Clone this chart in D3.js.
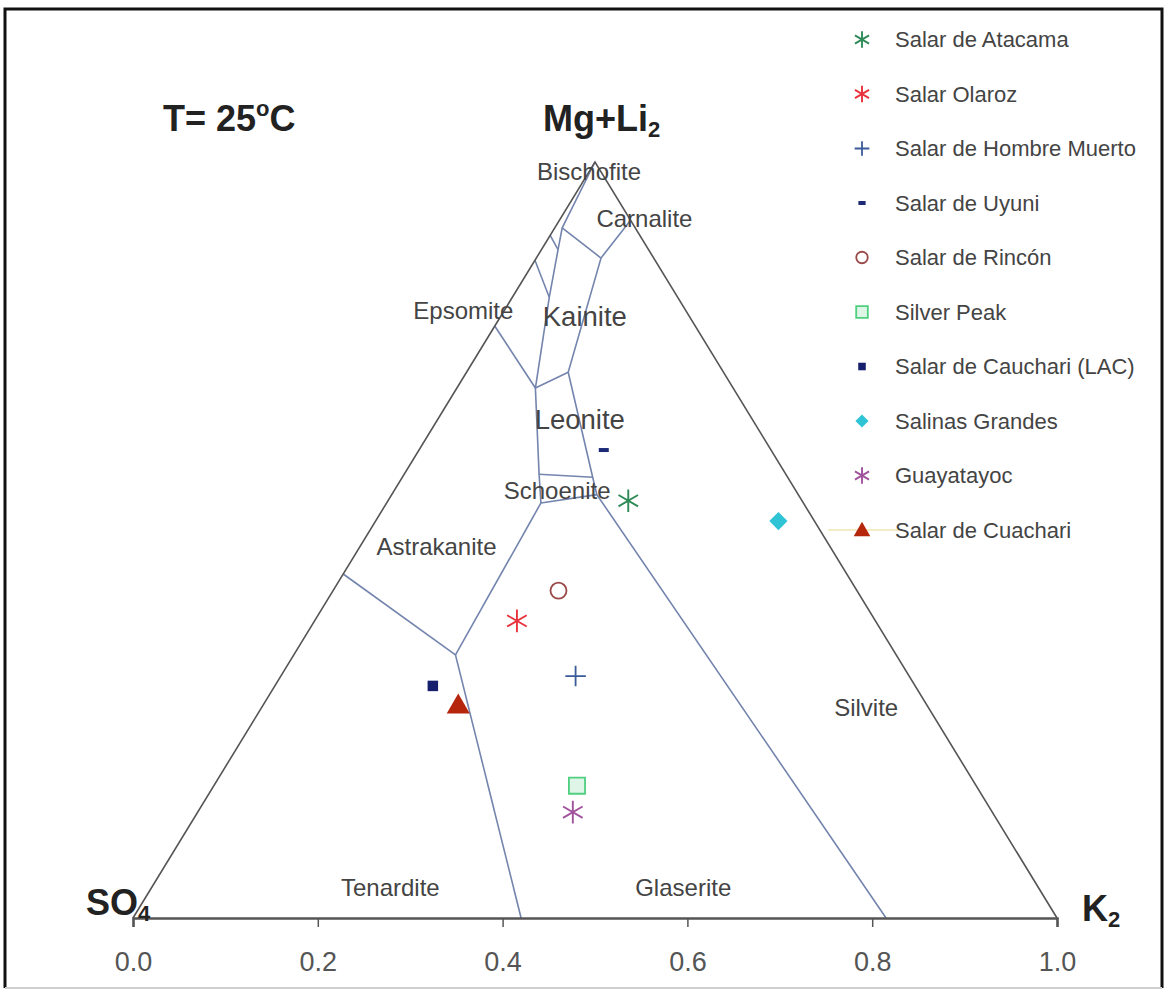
<!DOCTYPE html>
<html>
<head>
<meta charset="utf-8">
<script src="https://cdn.jsdelivr.net/npm/d3@7"></script>
<style>
  body { margin: 0; background: #fff; }
  text { font-family: Arial, "Liberation Sans", sans-serif; }
</style>
</head>
<body>
<div id="chart"></div>
<script>
// ---- data ----
// sample points, ternary fractions (K2, Mg+Li2); SO4 = 1 - both
var sites = ['Salar de Atacama', 'Salar Olaroz', 'Salar de Hombre Muerto', 'Salar de Uyuni',
  'Salar de Rincón', 'Silver Peak', 'Salar de Cauchari (LAC)', 'Salinas Grandes',
  'Guayatayoc', 'Salar de Cuachari'];
var siteK2   = [0.260, 0.219, 0.319, 0.200, 0.244, 0.393, 0.171, 0.436, 0.406, 0.211];
var siteMgLi = [0.552, 0.393, 0.320, 0.619, 0.433, 0.175, 0.307, 0.525, 0.140, 0.282];
var siteShape = ['asterisk', 'asterisk', 'plus', 'dash', 'circle', 'square', 'square', 'diamond', 'asterisk', 'triangle'];
var siteColor = ['#2e8b57', '#e8323c', '#3b5b9a', '#1c2a78', '#9b4a4a', '#4fcf7f', '#151f6e', '#2ec4d6', '#a0529c', '#b5260c'];

// phase boundaries, polylines of [K2, Mg+Li2]
var boundaries = [
  [[0.420, 0], [0.175, 0.348]],
  [[0, 0.455], [0.175, 0.348]],
  [[0.175, 0.348], [0.167, 0.549]],
  [[0.167, 0.549], [0.222, 0.560]],
  [[0.815, 0], [0.222, 0.560], [0.206, 0.583], [0.110, 0.722], [0.070, 0.873], [0.077, 0.923]],
  [[0.167, 0.549], [0.146, 0.587], [0.085, 0.701], [0.040, 0.821], [0.018, 0.884], [0.008, 0.913], [0, 1]],
  [[0.146, 0.587], [0.206, 0.583]],
  [[0.085, 0.701], [0.110, 0.722]],
  [[0, 0.783], [0.085, 0.701]],
  [[0.008, 0.913], [0.070, 0.873]],
  [[0, 0.903], [0.018, 0.884]],
  [[0, 0.870], [0.040, 0.821]]
];

// mineral fields and where their names sit
var fields = ['Bischofite', 'Carnalite', 'Epsomite', 'Kainite', 'Leonite', 'Schoenite',
  'Astrakanite', 'Tenardite', 'Glaserite', 'Silvite'];
var fieldK2   = [0, 0.091, -0.044, 0.091, 0.154, 0.176, 0.083, 0.258, 0.575, 0.654];
var fieldMgLi = [0.987, 0.925, 0.803, 0.796, 0.659, 0.566, 0.491, 0.041, 0.041, 0.279];
var fieldBig  = [false, false, false, true, true, false, false, false, false, false];

var majorTicks = [0, 0.2, 0.4, 0.6, 0.8, 1.0];
var minorTicks = d3.range(0, 1.0001, 0.04);

// ---- layout ----
var width = 1167, height = 992;
var svg = d3.select('#chart').append('svg')
  .attr('width', width).attr('height', height);

var x = d3.scaleLinear().domain([0, 1]).range([133, 1057]);
var y = d3.scaleLinear().domain([0, 1]).range([918, 162]);

// ternary -> screen
function px(k, m) { return x(k + m / 2); }
function py(k, m) { return y(m); }

// frame
svg.append('path')
  .attr('d', 'M5,988 L5,9 L1162,9 L1162,988')
  .attr('fill', 'none').attr('stroke', '#111').attr('stroke-width', 3);
svg.append('line')
  .attr('x1', 5).attr('x2', 1162).attr('y1', 988).attr('y2', 988)
  .attr('stroke', '#cfcfcf').attr('stroke-width', 2);

// phase boundaries
var line = d3.line().x(function(d) { return px(d[0], d[1]); }).y(function(d) { return py(d[0], d[1]); });
svg.append('g').selectAll('path')
  .data(boundaries)
  .enter().append('path')
  .attr('d', line)
  .attr('fill', 'none')
  .attr('stroke', '#7384ad')
  .attr('stroke-width', 1.6);

// triangle sides
svg.append('path')
  .attr('d', line([[0, 0], [0, 1], [1, 0]]))
  .attr('fill', 'none').attr('stroke', '#555').attr('stroke-width', 1.6);

// bottom axis
var axisG = svg.append('g').attr('transform', 'translate(0,' + y(0) + ')');
axisG.call(d3.axisBottom(x).tickValues(minorTicks).tickSize(5).tickFormat(''));
axisG.call(d3.axisBottom(x).tickValues(majorTicks).tickSize(9).tickPadding(25).tickFormat(d3.format('.1f')));
axisG.selectAll('.domain').attr('stroke', '#555').attr('stroke-width', 2.5);
axisG.selectAll('line').attr('stroke', '#555').attr('stroke-width', 1.5);
axisG.selectAll('text')
  .style('font-family', 'Arial, "Liberation Sans", sans-serif')
  .style('font-size', '27px').attr('fill', '#555');

// field names
svg.append('g').selectAll('text')
  .data(fields)
  .enter().append('text')
  .attr('x', function(d, i) { return px(fieldK2[i], fieldMgLi[i]); })
  .attr('y', function(d, i) { return py(fieldK2[i], fieldMgLi[i]); })
  .attr('text-anchor', 'middle')
  .attr('dominant-baseline', 'central')
  .attr('font-size', function(d, i) { return fieldBig[i] ? 27.5 : 24; })
  .attr('fill', '#444')
  .text(function(d) { return d; });

// titles
var tt = svg.append('text').attr('x', 163).attr('y', 131)
  .attr('font-size', 36).attr('font-weight', 'bold').attr('fill', '#222');
tt.append('tspan').text('T= 25');
tt.append('tspan').attr('font-size', 22).attr('dy', -15).text('o');
tt.append('tspan').attr('dy', 15).text('C');

var apexLabel = svg.append('text').attr('x', 543).attr('y', 131)
  .attr('font-size', 36).attr('font-weight', 'bold').attr('fill', '#222');
apexLabel.append('tspan').text('Mg+Li');
apexLabel.append('tspan').attr('font-size', 22).attr('dy', 6).text('2');

var so4 = svg.append('text').attr('x', 86).attr('y', 915)
  .attr('font-size', 36).attr('font-weight', 'bold').attr('fill', '#222');
so4.append('tspan').text('SO');
so4.append('tspan').attr('font-size', 22).attr('dy', 6).text('4');

var k2 = svg.append('text').attr('x', 1082).attr('y', 921)
  .attr('font-size', 36).attr('font-weight', 'bold').attr('fill', '#222');
k2.append('tspan').text('K');
k2.append('tspan').attr('font-size', 22).attr('dy', 6).text('2');

// marker drawing
function drawMark(g, shape, color, s) {
  if (shape === 'asterisk') {
    g.append('path').attr('d', d3.symbol(d3.symbolAsterisk, 360 * s * s)())
      .attr('fill', 'none').attr('stroke', color).attr('stroke-width', 1.9);
  } else if (shape === 'plus') {
    g.append('path').attr('d', d3.symbol(d3.symbolPlus, 140 * s * s)())
      .attr('fill', 'none').attr('stroke', color).attr('stroke-width', 1.8);
  } else if (shape === 'dash') {
    g.append('rect').attr('x', -5 * s).attr('y', -2).attr('width', 10 * s).attr('height', 4)
      .attr('fill', color);
  } else if (shape === 'circle') {
    g.append('circle').attr('r', 8 * s)
      .attr('fill', 'none').attr('stroke', color).attr('stroke-width', 1.8);
  } else if (shape === 'diamond') {
    g.append('path').attr('d', d3.symbol(d3.symbolSquare, 165 * s * s)())
      .attr('transform', 'rotate(45)').attr('fill', color);
  } else if (shape === 'triangle') {
    g.append('path').attr('d', d3.symbol(d3.symbolTriangle, 230 * s * s)())
      .attr('transform', 'translate(0,' + (2 * s) + ')').attr('fill', color);
  } else if (shape === 'square') {
    if (color === '#4fcf7f') {
      g.append('path').attr('d', d3.symbol(d3.symbolSquare, 260 * s * s)())
        .attr('fill', '#dff5e7').attr('stroke', color).attr('stroke-width', 1.8);
    } else {
      g.append('path').attr('d', d3.symbol(d3.symbolSquare, 110 * s * s)())
        .attr('fill', color);
    }
  }
}

// sample points
var pts = svg.append('g').selectAll('g')
  .data(sites)
  .enter().append('g')
  .attr('transform', function(d, i) {
    return 'translate(' + px(siteK2[i], siteMgLi[i]) + ',' + py(siteK2[i], siteMgLi[i]) + ')';
  });
pts.each(function(d, i) { drawMark(d3.select(this), siteShape[i], siteColor[i], 1); });

// legend
var legend = svg.append('g');
legend.append('line')
  .attr('x1', 828).attr('x2', 900).attr('y1', 530).attr('y2', 530)
  .attr('stroke', '#f3ecc4').attr('stroke-width', 2);
var rows = legend.selectAll('g')
  .data(sites)
  .enter().append('g')
  .attr('transform', function(d, i) { return 'translate(0,' + (39.5 + 54.5 * i) + ')'; });
rows.each(function(d, i) {
  var sym = d3.select(this).append('g').attr('transform', 'translate(862,0)');
  drawMark(sym, siteShape[i], siteColor[i], 0.72);
});
rows.append('text')
  .attr('x', 895).attr('y', 0)
  .attr('dominant-baseline', 'central')
  .attr('font-size', 22).attr('fill', '#444')
  .text(function(d) { return d; });
</script>
</body>
</html>
